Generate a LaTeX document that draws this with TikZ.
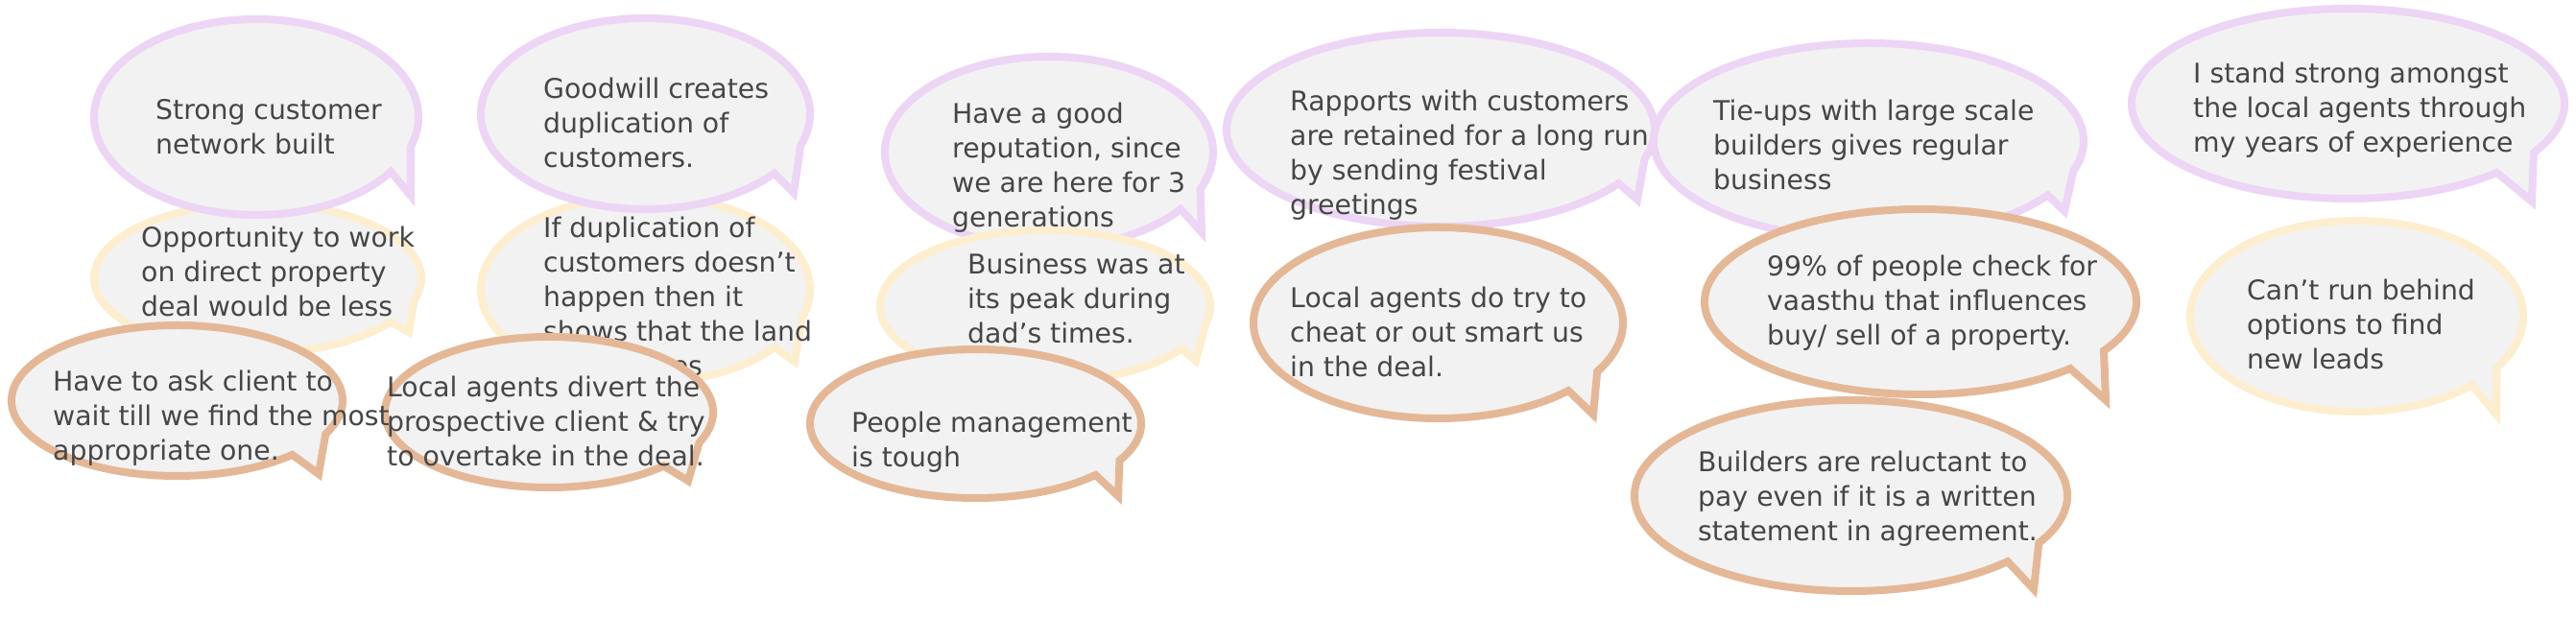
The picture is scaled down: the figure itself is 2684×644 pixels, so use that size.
\documentclass[tikz,border=0pt]{standalone}
\usepackage{fontspec}
\newfontfamily\bubfont{DejaVu Sans}
\definecolor{bubfill}{HTML}{F2F2F2}
\definecolor{cpur}{HTML}{EDD5F5}
\definecolor{cyel}{HTML}{FDEED0}
\definecolor{ctan}{HTML}{E4B897}
\definecolor{ctext}{HTML}{464646}
\tikzset{
  bubble/.style={fill=bubfill, line width=8pt, line join=miter, miter limit=20},
  btext/.style={inner sep=0pt, align=left, text=ctext, anchor=north west,
    font=\bubfont\fontsize{28.3}{36}\selectfont}
}
% #1 colour, #2 cx, #3 cy (image px, y down), #4 A, #5 B (outer semi-axes),
% #6 tail start angle, #7 tail return angle, #8 #9 outer tip
\newcommand\bub[9]{%
  \filldraw[bubble, draw=#1]
    ([shift={(#6:{#4-4} and {#5-4})}]#2,-#3)
    arc[start angle=#6, end angle={#7+360}, x radius={#4-4}, y radius={#5-4}]
    -- (#8-7,-#9+16) -- cycle;
}
\newcommand\btext[4]{\node[btext] (#1) at (#2,{-(#3-25.2)}) {#4};}
\begin{document}
\begin{tikzpicture}[x=1pt,y=1pt]
\fill[white] (0,0) rectangle (2684,-644);
\useasboundingbox (0,0) rectangle (2684,-644);
% column 1
\bub{cyel}{268.5}{290}{174.5}{82}{-17.1}{-35.8}{433}{362}
\btext{t2}{147}{257}{\strut Opportunity to work\\ on direct property\\ deal would be less}
\bub{cpur}{267}{122}{173}{106}{-17.8}{-33.9}{435}{220}
\btext{t1}{162}{124}{\strut Strong customer\\ network built}
\bub{ctan}{184.5}{417.5}{176.5}{82.5}{-26.2}{-45.9}{339}{510}
% column 2
\bub{cyel}{672.5}{301.5}{175.5}{101.5}{-18.1}{-38.3}{835}{393}
\btext{t5}{566}{247}{\strut If duplication of\\ customers doesn’t\\ happen then it\\ shows that the land\\ appreciates}
\bub{cpur}{672.5}{118.5}{175.5}{103.5}{-19.5}{-38.6}{834}{217}
\btext{t6}{566}{102}{\strut Goodwill creates\\ duplication of\\ customers.}
\bub{ctan}{572}{429.5}{175}{82.5}{-23.6}{-45.6}{724}{517}
\btext{t4}{403}{413}{\strut Local agents divert the\\ prospective client \& try\\ to overtake in the deal.}
\btext{t3}{55}{407}{\strut Have to ask client to\\ wait till we find the most\\ appropriate one.}
% column 3
\bub{cpur}{1093}{158.5}{175}{103.5}{-22.8}{-36.7}{1259}{258}
\btext{t7}{992}{128}{\strut Have a good\\ reputation, since\\ we are here for 3\\ generations}
\bub{cyel}{1089}{319}{176}{83}{-13.6}{-34.2}{1253}{392}
\btext{t8}{1008}{285}{\strut Business was at\\ its peak during\\ dad’s times.}
\bub{ctan}{1016.5}{441.5}{176.5}{81.5}{-29.6}{-43.6}{1172}{533}
\btext{t9}{887}{450}{\strut People management\\ is tough}
% column 4
\bub{cpur}{1501}{135}{227}{105}{-17.6}{-33.7}{1713}{224}
\btext{t10}{1344}{115}{\strut Rapports with customers\\ are retained for a long run\\ by sending festival\\ greetings}
\bub{ctan}{1498.5}{336.5}{196.5}{103.5}{-30.6}{-45.2}{1667}{448}
\btext{t11}{1344}{320}{\strut Local agents do try to\\ cheat or out smart us\\ in the deal.}
% column 5
\bub{cpur}{1947}{147}{228}{106}{-17.8}{-33.6}{2158}{236}
\btext{t12}{1785}{125}{\strut Tie-ups with large scale\\ builders gives regular\\ business}
\bub{ctan}{2001}{314.5}{229}{100.5}{-31.9}{-46.1}{2201}{433}
\btext{t13}{1841}{287}{\strut 99\% of people check for\\ vaasthu that influences\\ buy/ sell of a property.}
\bub{ctan}{1928.5}{516.5}{229.5}{103.5}{-29.7}{-43.6}{2126}{630}
\btext{t14}{1769}{491}{\strut Builders are reluctant to\\ pay even if it is a written\\ statement in agreement.}
% column 6
\bub{cpur}{2446.5}{108}{229.5}{103}{-31.0}{-46.6}{2645}{226}
\btext{t15}{2285}{86}{\strut I stand strong amongst\\ the local agents through\\ my years of experience}
\bub{cyel}{2455.5}{329.5}{177.5}{103.5}{-32.8}{-46.2}{2608}{448}
\btext{t16}{2341}{312}{\strut Can’t run behind\\ options to find\\ new leads}
\end{tikzpicture}
\end{document}
